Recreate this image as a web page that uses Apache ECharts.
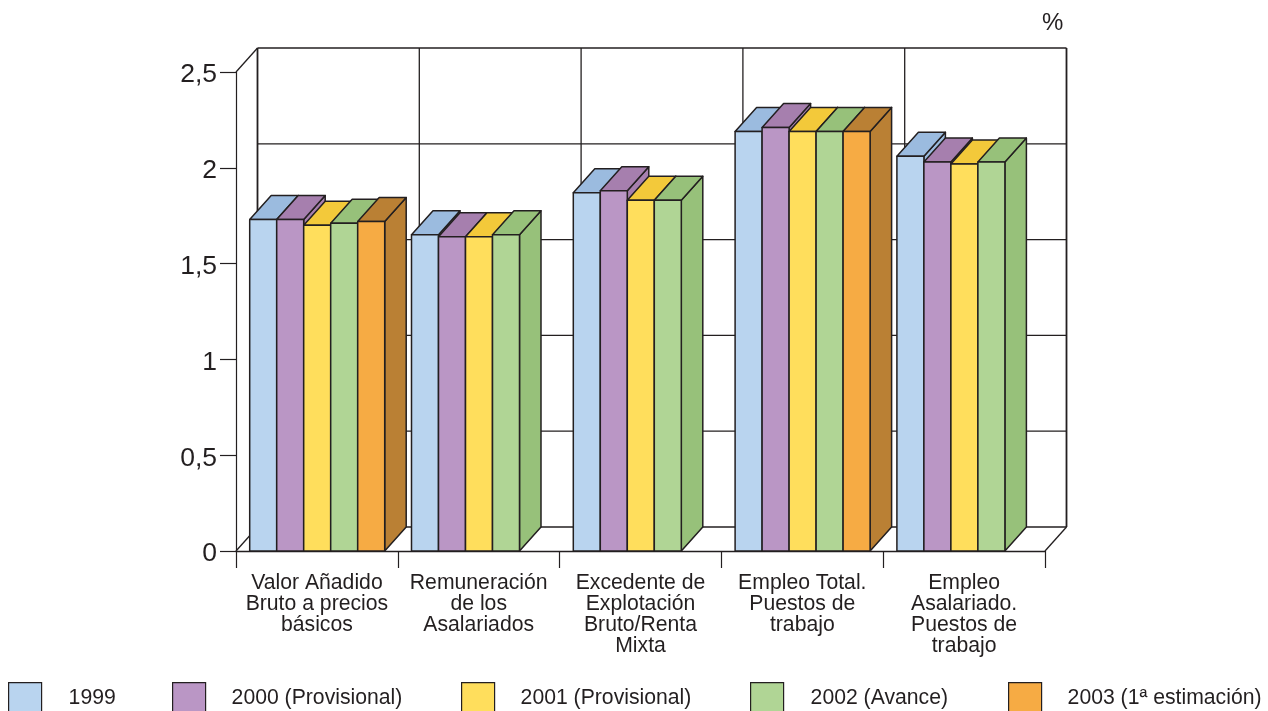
<!DOCTYPE html>
<html>
<head>
<meta charset="utf-8">
<style>html,body{margin:0;padding:0;background:#fff;overflow:hidden}#c{width:1268px;height:711px}</style>
<script src="https://cdn.jsdelivr.net/npm/echarts@6/dist/echarts.min.js"></script>
</head>
<body>
<div id="c"></div>
<script>
const categories = [
  'Valor Añadido\nBruto a precios\nbásicos',
  'Remuneración\nde los\nAsalariados',
  'Excedente de\nExplotación\nBruto/Renta\nMixta',
  'Empleo Total.\nPuestos de\ntrabajo',
  'Empleo\nAsalariado.\nPuestos de\ntrabajo'
];
const yTicks = [0, 0.5, 1, 1.5, 2, 2.5];
const v1999 = [1.73, 1.65, 1.87, 2.19, 2.06];
const v2000 = [1.73, 1.64, 1.88, 2.21, 2.03];
const v2001 = [1.70, 1.64, 1.83, 2.19, 2.02];
const v2002 = [1.71, 1.65, 1.83, 2.19, 2.03];
const v2003 = [1.72, null, null, 2.19, null];
const seriesNames = ['1999', '2000 (Provisional)', '2001 (Provisional)', '2002 (Avance)', '2003 (1ª estimación)'];
const seriesValues = [v1999, v2000, v2001, v2002, v2003];
const frontColors = ['#b9d4ef', '#ba96c5', '#ffde5c', '#b0d595', '#f6ab44'];
const shadeColors = ['#9bbbdf', '#a67fae', '#f3c93a', '#97c17a', '#ba8034'];
const legendLeft = [8, 172, 461, 750, 1008];
const legendPad = [22, 21, 21, 22, 21];

const INK = '#231f20';
const FONT = '"Liberation Sans", Arial, sans-serif';
const DX = 21.5, DY = -24;           // projection of the chart's depth
const BAR_FRAC = 27 / 161.8;         // bar width as a share of the category band
const BAR_START = 13.7 / 161.8;      // first bar's offset inside the band

function poly(points, fill) {
  return { type: 'polygon', shape: { points }, style: { fill, stroke: INK, lineWidth: 1.5, lineJoin: 'round' } };
}
function seg(a, b, w) {
  return { type: 'line', shape: { x1: a[0], y1: a[1], x2: b[0], y2: b[1] }, style: { stroke: INK, lineWidth: w, fill: null } };
}

function renderWall(params, api) {
  const band = api.size([1, 0])[0];
  const x0 = api.coord([0, 0])[0] - band / 2;
  const x1 = x0 + band * categories.length;
  const y = v => api.coord([0, v])[1];
  const children = [];
  yTicks.forEach(t => {
    const w = t === 2.5 || t === 0 ? 1.7 : 1.3;
    children.push(seg([x0 + DX, y(t) + DY], [x1 + DX, y(t) + DY], w));
  });
  categories.forEach((c, i) => {
    const x = x0 + band * i + DX;
    children.push(seg([x, y(0) + DY], [x, y(2.5) + DY], i === 0 ? 1.8 : 1.3));
  });
  children.push(seg([x1 + DX, y(0) + DY], [x1 + DX, y(2.5) + DY], 1.8));
  children.push(seg([x0, y(2.5)], [x0 + DX, y(2.5) + DY], 1.3));
  children.push(seg([x0, y(0)], [x0 + DX, y(0) + DY], 1.3));
  children.push(seg([x1, y(0)], [x1 + DX, y(0) + DY], 1.3));
  return { type: 'group', children };
}

function makeBarRender(idx) {
  return function (params, api) {
    const val = api.value(1);
    if (val == null || isNaN(val)) return null;
    const cat = api.value(0);
    const band = api.size([1, 0])[0];
    const c = api.coord([cat, val]);
    const base = api.coord([cat, 0])[1];
    const w = band * BAR_FRAC;
    const l = c[0] - band / 2 + band * BAR_START + idx * w;
    const r = l + w, t = c[1];
    return {
      type: 'group',
      children: [
        poly([[r, t], [r + DX, t + DY], [r + DX, base + DY], [r, base]], shadeColors[idx]),
        poly([[l, t], [l + DX, t + DY], [r + DX, t + DY], [r, t]], shadeColors[idx]),
        poly([[l, t], [r, t], [r, base], [l, base]], frontColors[idx])
      ]
    };
  };
}

const chart = echarts.init(document.getElementById('c'), null, { renderer: 'canvas' });
chart.setOption({
  animation: false,
  backgroundColor: '#ffffff',
  textStyle: { fontFamily: FONT, color: INK },
  title: {
    text: '%', left: 1042, top: 11, padding: 0,
    textStyle: { fontFamily: FONT, fontSize: 24, fontWeight: 'normal', color: INK }
  },
  grid: { left: 236, top: 72, width: 809, height: 479 },
  xAxis: {
    type: 'category', data: categories, boundaryGap: true,
    axisLine: { show: true, onZero: false, lineStyle: { color: INK, width: 1.3 } },
    axisTick: { show: true, length: 17, alignWithLabel: false, lineStyle: { color: INK, width: 1.2 } },
    axisLabel: { interval: 0, margin: 22, fontSize: 21.2, lineHeight: 21, color: INK, fontFamily: FONT },
    splitLine: { show: false }
  },
  yAxis: {
    type: 'value', min: 0, max: 2.5, interval: 0.5,
    axisLine: { show: true, lineStyle: { color: INK, width: 1.2 } },
    axisTick: { show: true, length: 16, lineStyle: { color: INK, width: 1.2 } },
    axisLabel: { margin: 19, color: INK,
      formatter: v => '{t|' + String(v).replace('.', ',') + '}',
      rich: { t: { fontSize: 26.5, fontFamily: FONT, color: INK, padding: [6, 0, 0, 0] } } },
    splitLine: { show: false }
  },
  legend: seriesNames.map((n, i) => ({
    data: [n], left: legendLeft[i], top: 682, padding: 0,
    icon: 'rect', itemWidth: 33, itemHeight: 31, selectedMode: false,
    itemStyle: { borderColor: INK, borderWidth: 1.2 },
    textStyle: { fontSize: 21.2, color: INK, padding: [0, 0, 0, legendPad[i]], fontFamily: FONT }
  })),
  series: [
    { type: 'custom', name: '_wall', silent: true, data: [[0, 0]], renderItem: renderWall, z: 1,
      encode: { x: 0, y: 1 } }
  ].concat(seriesNames.map((n, i) => ({
    type: 'custom', name: n, z: 2 + i, silent: true,
    itemStyle: { color: frontColors[i] },
    data: seriesValues[i].map((v, c) => [c, v]),
    encode: { x: 0, y: 1 },
    renderItem: makeBarRender(i)
  })))
});
</script>
</body>
</html>
